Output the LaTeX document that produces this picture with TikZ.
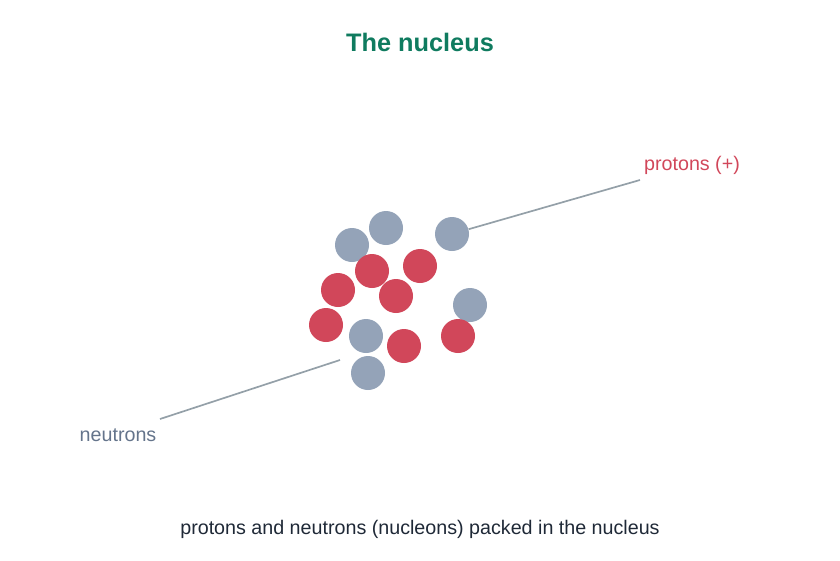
\documentclass[tikz,border=0pt]{standalone}
\usepackage{fontspec}
\setmainfont{Liberation Sans}
\definecolor{neutron}{HTML}{94A3B8}
\definecolor{proton}{HTML}{D1475A}
\definecolor{leader}{HTML}{94A0A8}
\definecolor{titlegreen}{HTML}{0F7B5F}
\definecolor{ntext}{HTML}{64748B}
\definecolor{captext}{HTML}{1F2937}
\tikzset{
  nucleon/.style={circle, minimum size=34*0.025cm, inner sep=0pt},
  neutronball/.style={nucleon, fill=neutron},
  protonball/.style={nucleon, fill=proton},
  pointer/.style={draw=leader, line width=1.2pt},
  label/.style={font=\fontsize{14}{16}\selectfont}
}
\begin{document}
\begin{tikzpicture}[x=0.025cm, y=-0.025cm]
    \useasboundingbox (0, 0) rectangle (840, 560);

    % Title
    \node [font=\bfseries\fontsize{18}{20}\selectfont, text=titlegreen] (title) at (420, 42) {The nucleus};

    % Neutrons
    \node [neutronball] (n1) at (352, 245) {};
    \node [neutronball] (n2) at (386, 228) {};
    \node [neutronball] (n3) at (452, 234) {};
    \node [neutronball] (n4) at (470, 305) {};
    \node [neutronball] (n5) at (366, 336) {};
    \node [neutronball] (n6) at (368, 373) {};

    % Protons
    \node [protonball] (p1) at (372, 271) {};
    \node [protonball] (p2) at (420, 266) {};
    \node [protonball] (p3) at (338, 290) {};
    \node [protonball] (p4) at (396, 296) {};
    \node [protonball] (p5) at (326, 325) {};
    \node [protonball] (p6) at (404, 346) {};
    \node [protonball] (p7) at (458, 336) {};

    % Labels
    \coordinate (pend) at (640, 180);
    \coordinate (nstart) at (340, 360);
    \coordinate (nend) at (160, 419);
    \node [label, text=proton] (plabel) at (692, 165) {protons (+)};
    \node [label, text=ntext] (nlabel) at (118, 435) {neutrons};
    \draw [pointer] (n3) -- (pend);
    \draw [pointer] (nstart) -- (nend);

    % Caption
    \node [label, text=captext] (caption) at (420, 529) {protons and neutrons (nucleons) packed in the nucleus};
\end{tikzpicture}
\end{document}
